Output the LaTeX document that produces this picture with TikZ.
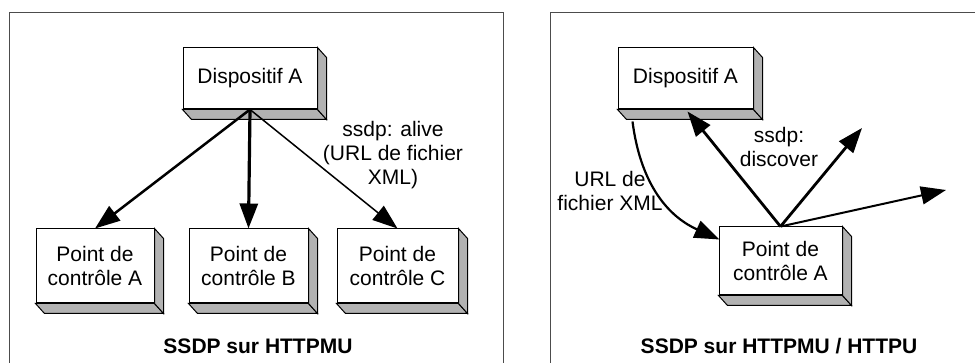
\documentclass[tikz,border=0pt]{standalone}
\usepackage{fontspec}
\setmainfont{Liberation Sans}
\usetikzlibrary{arrows.meta,calc}
\tikzset{
  frontbox/.style={draw=black, line width=1pt, fill=white, inner sep=0pt, align=center,
    font=\fontsize{21}{24}\selectfont},
  sideface/.style={draw=black, line width=1pt, fill=black!30, line join=miter},
  panel/.style={draw=black!70, line width=1pt},
  lbl/.style={align=center, font=\fontsize{21}{24}\selectfont, inner sep=0pt},
  ttl/.style={font=\fontsize{21}{24}\selectfont\bfseries, inner sep=0pt},
  arr/.style={-{Triangle[length=25pt 0,width=18pt 0]}, line join=miter},
}
\newcommand{\tdbox}[6]{%
  \node[frontbox, minimum width=#4pt, minimum height=#5pt] (#1) at (#2,#3) {#6};
  \draw[sideface] (#1.south west) -- ++(9,10) -- ($(#1.south east)+(9,10)$) -- (#1.south east) -- cycle;
  \draw[sideface] (#1.north east) -- ++(9,10) -- ($(#1.south east)+(9,10)$) -- (#1.south east) -- cycle;
}
\begin{document}
\begin{tikzpicture}[x=1pt,y=-1pt]
\useasboundingbox (0,0) rectangle (975,363);
\clip (0,0) rectangle (975,363);
\fill[white] (0,0) rectangle (975,363);
% panels
\draw[panel] (9,375) -- (9,13) -- (503,13) -- (503,375);
\draw[panel] (550,375) -- (550,13) -- (990,13);
% left panel
\tdbox{LD}{250}{78.5}{134}{61}{Dispositif A}
\tdbox{PA}{95}{266}{118}{74}{Point de\\contrôle A}
\tdbox{PB}{248.5}{266}{119}{74}{Point de\\contrôle B}
\tdbox{PC}{397.5}{266}{121}{74}{Point de\\contrôle C}
\draw[arr, line width=2.5pt] (LD.south) -- (PA.north);
\draw[arr, line width=3.2pt] (LD.south) -- (PB.north);
\draw[arr, line width=1.5pt] (LD.south) -- (PC.north);
\node[lbl] (alive) at (393,155) {ssdp: alive\\(URL de fichier\\XML)};
\node[ttl] (t1) at (258,346) {SSDP sur HTTPMU};
% right panel
\tdbox{RD}{685.5}{78.5}{135}{61}{Dispositif A}
\tdbox{RP}{780.5}{261}{123}{68}{Point de\\contrôle A}
\coordinate (ur) at (862,128);
\coordinate (rr) at (946,190);
\coordinate (cs) at ($(RD.south west)+(15,12)$);
\coordinate (ce) at ($(RP.north west)+(1,13)$);
\draw[arr, line width=2.8pt] (RP.north) -- ($(RD.south)+(2,2)$);
\draw[arr, line width=2.8pt] (RP.north) -- (ur);
\draw[arr, line width=2pt] (RP.north) -- (rr);
\draw[arr, line width=2.2pt] (cs) .. controls (640,180) and (665,215) .. (ce);
\node[lbl] (disc) at (779,147) {ssdp:\\discover};
\node[lbl] (url) at (610,191) {URL de\\fichier XML};
\node[ttl] (t2) at (779,346) {SSDP sur HTTPMU / HTTPU};
\end{tikzpicture}
\end{document}
